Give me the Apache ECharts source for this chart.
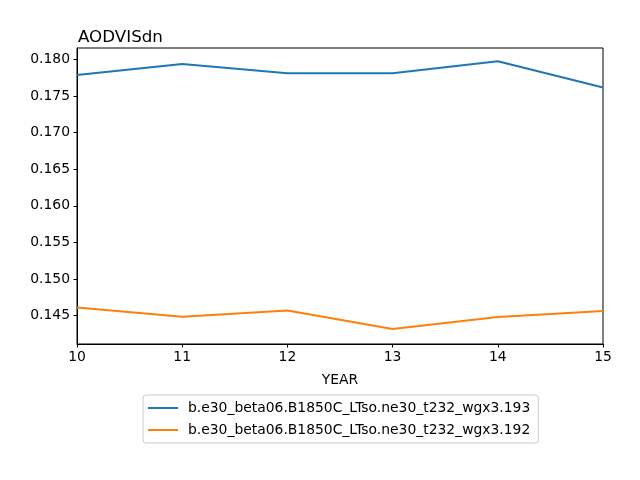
<!DOCTYPE html>
<html>
<head>
<meta charset="utf-8">
<script src="https://cdn.jsdelivr.net/npm/echarts@6/dist/echarts.min.js"></script>
<style>html,body{margin:0;padding:0;background:#fff}#c{width:640px;height:480px}</style>
</head>
<body>
<div id="c"></div>
<script>
var years = [10, 11, 12, 13, 14, 15];
var series193 = [0.17786, 0.17936, 0.17809, 0.17809, 0.17973, 0.17615];
var series192 = [0.14613, 0.14486, 0.14572, 0.14319, 0.14482, 0.14565];
var names = ['b.e30_beta06.B1850C_LTso.ne30_t232_wgx3.193', 'b.e30_beta06.B1850C_LTso.ne30_t232_wgx3.192'];
var yTicks = [0.145, 0.150, 0.155, 0.160, 0.165, 0.170, 0.175, 0.180];

function pairs(v) { return years.map(function (y, i) { return [y, v[i]]; }); }

var font = 'DejaVu Sans';
var chart = echarts.init(document.getElementById('c'), null, {renderer: 'canvas'});
chart.setOption({
  animation: false,
  backgroundColor: '#fff',
  title: {
    text: 'AODVISdn', left: 73, top: 24,
    textStyle: {fontFamily: font, fontSize: 16.7, fontWeight: 'normal', color: '#000'}
  },
  grid: {left: 77, right: 37, top: 48, bottom: 136, show: true, borderColor: '#000', borderWidth: 1, backgroundColor: 'transparent'},
  xAxis: {
    type: 'value', min: 10, max: 15, interval: 1,
    name: 'YEAR', nameLocation: 'middle', nameGap: 29,
    nameTextStyle: {fontFamily: font, fontSize: 13.9, color: '#000'},
    axisLine: {show: true, lineStyle: {color: '#000', width: 1}},
    axisTick: {show: true, length: 3.5, inside: false, lineStyle: {color: '#000'}},
    axisLabel: {fontFamily: font, fontSize: 13.9, color: '#000', margin: 6},
    splitLine: {show: false}
  },
  yAxis: {
    type: 'value', min: 0.14114, max: 0.18154,
    axisLine: {show: true, lineStyle: {color: '#000', width: 1}},
    axisTick: {show: true, length: 3.5, lineStyle: {color: '#000'}, customValues: yTicks},
    axisLabel: {
      fontFamily: font, fontSize: 13.9, color: '#000', margin: 7,
      customValues: yTicks,
      formatter: function (v) { return v.toFixed(3); }
    },
    splitLine: {show: false}
  },
  legend: {
    orient: 'vertical', left: 143, top: 395,
    width: 380,
    data: names,
    icon: 'rect', itemWidth: 30, itemHeight: 2, itemGap: 8,
    borderColor: '#ccc', borderWidth: 1, borderRadius: 3,
    padding: [6, 8, 6, 5],
    textStyle: {fontFamily: font, fontSize: 13.9, color: '#000', padding: [0, 0, 0, 5]}
  },
  series: [
    {name: names[0], type: 'line', data: pairs(series193), symbol: 'none', lineStyle: {color: '#1f77b4', width: 2}, itemStyle: {color: '#1f77b4'}},
    {name: names[1], type: 'line', data: pairs(series192), symbol: 'none', lineStyle: {color: '#ff7f0e', width: 2}, itemStyle: {color: '#ff7f0e'}}
  ]
});
</script>
</body>
</html>
